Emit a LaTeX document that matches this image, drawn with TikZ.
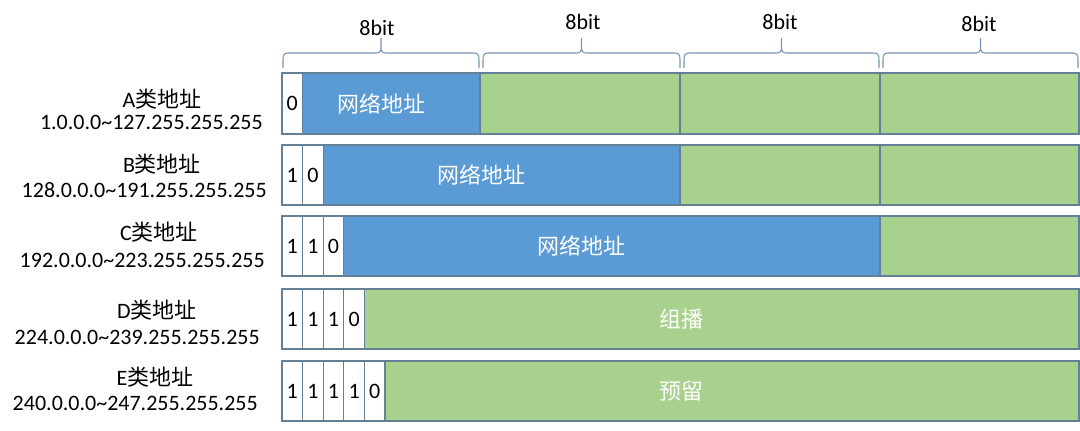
\documentclass[tikz,border=0pt]{standalone}
\usepackage{fontspec}
\setmainfont{Carlito}
\newfontfamily\zhfont{Noto Sans CJK SC}
\usetikzlibrary{positioning,calc}
\definecolor{netblue}{RGB}{91,155,213}
\definecolor{hostgreen}{RGB}{169,209,142}
\definecolor{cellline}{RGB}{100,128,150}
\definecolor{bracegray}{RGB}{120,148,180}
\tikzstyle{bitcell}=[draw=cellline,fill=white,line width=0.9pt]
\tikzstyle{netcell}=[draw=cellline,fill=netblue,line width=0.9pt]
\tikzstyle{hostcell}=[draw=cellline,fill=hostgreen,line width=0.9pt]
\tikzstyle{bittext}=[inner sep=0pt,text=black]
\tikzstyle{bartext}=[inner sep=0pt,text=white,font=\zhfont\fontsize{16.5pt}{20pt}\selectfont]
\tikzstyle{brace}=[draw=bracegray,line width=0.8pt]
\tikzstyle{classname}=[inner sep=0pt]
\tikzstyle{classrange}=[inner sep=0pt,anchor=east]

\begin{document}
\begin{tikzpicture}[x=0.75pt,y=-0.75pt,font=\fontsize{16.5pt}{20pt}\selectfont]

% % % % % % % % % % % % % % %

\useasboundingbox (0,0) rectangle (1080,430);
\def\bw{20.6}

% octet braces
\foreach \xa/\xb in {283/479,483/680,684/879,883/1078} {
\pgfmathsetmacro{\xm}{(\xa+\xb)/2}
\draw[brace] (\xa,68) -- (\xa,60) .. controls (\xa,55) and (\xa+1,53) .. (\xa+5,53)
  -- (\xm-5,53) .. controls (\xm-1,53) and (\xm,51) .. (\xm,47) -- (\xm,38)
  -- (\xm,47) .. controls (\xm,51) and (\xm+1,53) .. (\xm+5,53)
  -- (\xb-5,53) .. controls (\xb-1,53) and (\xb,55) .. (\xb,60) -- (\xb,68);
}
\foreach \xl/\yl [count=\k] in {377/28,583/22,780/22,979/24} {
\node[inner sep=0pt] (oct\k) at (\xl,\yl) {8bit};
}

% A
\draw[hostcell] (480,73) rectangle (680,134);
\draw[hostcell] (680,73) rectangle (880,134);
\draw[hostcell] (880,73) rectangle (1079,134);
\draw[netcell] (302.6,73) rectangle (480,134);
\foreach \v [count=\i] in {0} {
\draw[bitcell] ({282+(\i-1)*\bw},73) rectangle ({282+\i*\bw},134);
\node[bittext] (A\i) at ({282+(\i-0.5)*\bw},103.5) {\v};
}
\node[bartext] (netA) at (381,103.5) {网络地址};
\node[classname] (nameA) at (162,99) {A{\zhfont 类地址}};
\node[classrange] (rangeA) at (263,122) {1.0.0.0\textasciitilde127.255.255.255};

% B
\draw[hostcell] (680,145) rectangle (880,205);
\draw[hostcell] (880,145) rectangle (1079,205);
\draw[netcell] (323.2,145) rectangle (680,205);
\foreach \v [count=\i] in {1,0} {
\draw[bitcell] ({282+(\i-1)*\bw},145) rectangle ({282+\i*\bw},205);
\node[bittext] (B\i) at ({282+(\i-0.5)*\bw},175) {\v};
}
\node[bartext] (netB) at (481,175) {网络地址};
\node[classname] (nameB) at (162,164) {B{\zhfont 类地址}};
\node[classrange] (rangeB) at (267,190) {128.0.0.0\textasciitilde191.255.255.255};

% C
\draw[hostcell] (880,216) rectangle (1079,276);
\draw[netcell] (343.8,216) rectangle (880,276);
\foreach \v [count=\i] in {1,1,0} {
\draw[bitcell] ({282+(\i-1)*\bw},216) rectangle ({282+\i*\bw},276);
\node[bittext] (C\i) at ({282+(\i-0.5)*\bw},246) {\v};
}
\node[bartext] (netC) at (581,246) {网络地址};
\node[classname] (nameC) at (159,232) {C{\zhfont 类地址}};
\node[classrange] (rangeC) at (265,260) {192.0.0.0\textasciitilde223.255.255.255};

% D
\draw[hostcell] (364.4,289) rectangle (1079,349);
\foreach \v [count=\i] in {1,1,1,0} {
\draw[bitcell] ({282+(\i-1)*\bw},289) rectangle ({282+\i*\bw},349);
\node[bittext] (D\i) at ({282+(\i-0.5)*\bw},319) {\v};
}
\node[bartext] (multicast) at (681,319) {组播};
\node[classname] (nameD) at (157,310) {D{\zhfont 类地址}};
\node[classrange] (rangeD) at (260,337) {224.0.0.0\textasciitilde239.255.255.255};

% E
\draw[hostcell] (385,361) rectangle (1079,421);
\foreach \v [count=\i] in {1,1,1,1,0} {
\draw[bitcell] ({282+(\i-1)*\bw},361) rectangle ({282+\i*\bw},421);
\node[bittext] (E\i) at ({282+(\i-0.5)*\bw},391) {\v};
}
\node[bartext] (reserved) at (681,391) {预留};
\node[classname] (nameE) at (155,377) {E{\zhfont 类地址}};
\node[classrange] (rangeE) at (258,403) {240.0.0.0\textasciitilde247.255.255.255};

\end{tikzpicture}
\end{document}
